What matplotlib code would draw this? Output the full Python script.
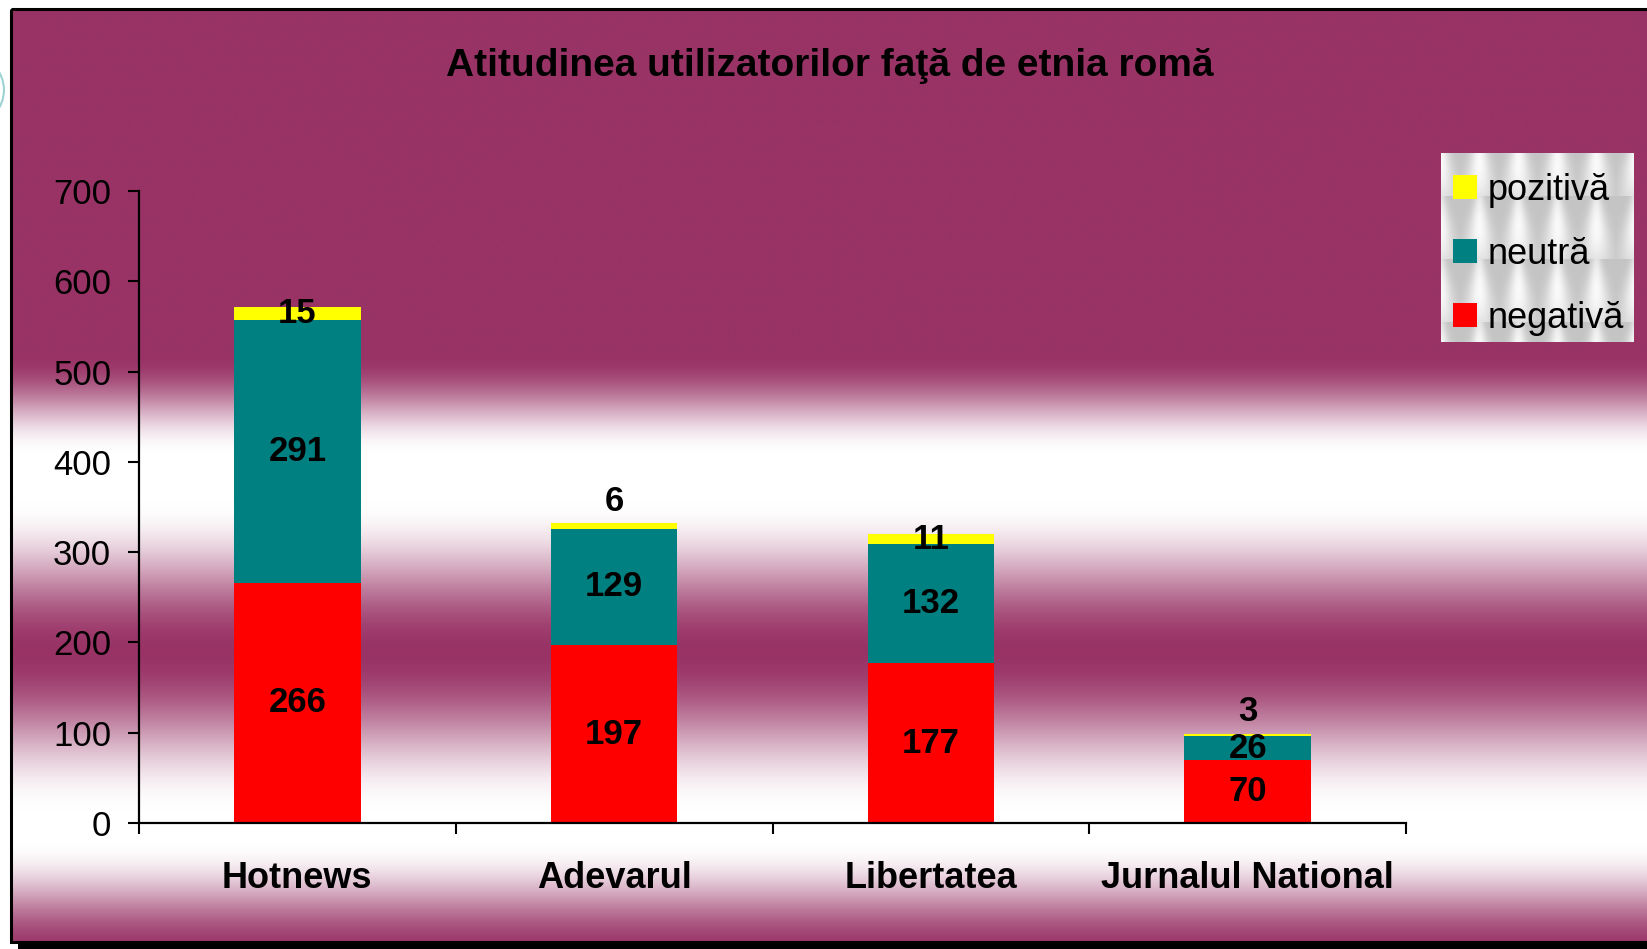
import numpy as np
import matplotlib
matplotlib.use('Agg')
import matplotlib.pyplot as plt
from matplotlib.patches import Rectangle, Patch, Arc

# ---------------- data ----------------
categories = ['Hotnews', 'Adevarul', 'Libertatea', 'Jurnalul National']
negativa = [266, 197, 177, 70]
neutra = [291, 129, 132, 26]
pozitiva = [15, 6, 11, 3]
series_names = ['negativă', 'neutră', 'pozitivă']
series_colors = ['#FF0000', '#008080', '#FFFF00']
yticks = [0, 100, 200, 300, 400, 500, 600, 700]
title = 'Atitudinea utilizatorilor faţă de etnia romă'

# ---------------- figure ----------------
W, H, DPI = 1647, 949, 100
plt.rcParams['font.family'] = ['Liberation Sans', 'DejaVu Sans']
fig = plt.figure(figsize=(W / DPI, H / DPI), dpi=DPI)
fig.patch.set_facecolor('white')

bg = fig.add_axes([0, 0, 1, 1], zorder=0)
bg.axis('off')

# vertical banded gradient (maroon <-> white)
maroon = np.array([153, 51, 102]) / 255.0
ys = np.arange(9, 943)
stops_y = [9, 355, 455, 500, 652, 812, 842, 942]
stops_t = [0, 0, 1, 1, 0, 1, 1, 0.12]
t = np.interp(ys, stops_y, stops_t)
t = 0.5 - 0.5 * np.cos(np.pi * t)  # smooth easing
col = maroon[None, :] * (1 - t[:, None]) + t[:, None]
img = np.repeat(col[:, None, :], 2, axis=1)
bg.imshow(img, extent=[11, W + 5, 942, 9], aspect='auto',
          interpolation='bilinear', zorder=0)

# shadow + frame
bg.add_patch(Rectangle((18, 942), W, 7, facecolor='black', edgecolor='none', zorder=1))
bg.add_patch(Rectangle((11, 9), W + 10, 933, fill=False, edgecolor='black', lw=2.2, zorder=2))
# little arc at left edge
bg.add_patch(Arc((-55, 90), 118, 90, theta1=-60, theta2=60, color='#9ED3D3', lw=1.5, zorder=1))

# legend textured background
lx0, ly0, lx1, ly1 = 1441, 153, 1634, 342
tw, th = 39.0, 63.0
gx = np.arange(lx0, lx1) + 0.5
gy = np.arange(ly0, ly1) + 0.5
GX, GY = np.meshgrid(gx, gy)
fx = ((GX - lx0 + 20) % tw) / tw
fy = ((GY - ly0 + 20) % th) / th
dx = np.abs(fx - 0.5)
width = 0.12 + 0.30 * fy
tex = 0.77 + 0.21 * np.exp(-(dx / width) ** 2) * (0.6 + 0.4 * np.sin(np.pi * fy))
tex = np.clip(tex, 0, 1)
bg.imshow(np.dstack([tex, tex, tex]), extent=[lx0, lx1, ly1, ly0],
          aspect='auto', interpolation='bilinear', zorder=1)

bg.set_xlim(0, W)
bg.set_ylim(H, 0)

fig.text(830 / W, 1 - 66 / H, title, ha='center', va='center',
         fontsize=28, fontweight='bold', color='black')

# ---------------- main axes ----------------
x0, x1, ytop, ybot = 139, 1406, 191, 823
ax = fig.add_axes([x0 / W, 1 - ybot / H, (x1 - x0) / W, (ybot - ytop) / H], zorder=2)
ax.patch.set_alpha(0)

x = np.arange(len(categories))
bw = 0.40
neg = np.array(negativa)
neu = np.array(neutra)
poz = np.array(pozitiva)
ax.bar(x, neg, bw, color=series_colors[0], label=series_names[0], zorder=2)
ax.bar(x, neu, bw, bottom=neg, color=series_colors[1], label=series_names[1], zorder=2)
ax.bar(x, poz, bw, bottom=neg + neu, color=series_colors[2], label=series_names[2], zorder=2)

ax.set_xlim(-0.5, len(categories) - 0.5)
ax.set_ylim(0, 700)

lab_kw = dict(ha='center', fontsize=25, fontweight='bold', color='black', zorder=5)
for i in range(len(categories)):
    ax.text(x[i], neg[i] / 2, str(neg[i]), va='center', **lab_kw)
    ax.text(x[i], neg[i] + neu[i] / 2, str(neu[i]), va='center', **lab_kw)
    top = neg[i] + neu[i] + poz[i]
    if poz[i] < 10:
        ax.annotate(str(poz[i]), (x[i], top), xytext=(0, 4), textcoords='offset points',
                    va='bottom', **lab_kw)
    else:
        ax.text(x[i], neg[i] + neu[i] + poz[i] / 2, str(poz[i]), va='center', **lab_kw)

for side in ['top', 'right']:
    ax.spines[side].set_visible(False)
for side in ['left', 'bottom']:
    ax.spines[side].set_linewidth(1.6)
    ax.spines[side].set_color('black')

ax.set_yticks(yticks)
ax.set_yticklabels([str(v) for v in yticks])
ax.tick_params(axis='y', direction='out', length=8, width=1.5, pad=12,
               labelsize=25, colors='black')

# major ticks at category boundaries, labels at centres
ax.set_xticks(np.arange(len(categories) + 1) - 0.5)
ax.set_xticklabels([])
ax.tick_params(axis='x', which='major', direction='out', length=8, width=1.5)
ax.set_xticks(x, minor=True)
ax.set_xticklabels(categories, minor=True)
ax.tick_params(axis='x', which='minor', length=0, pad=27, labelsize=26)
for tl in ax.get_xticklabels(minor=True):
    tl.set_fontweight('bold')

# legend
handles = [Patch(facecolor=c, edgecolor='none') for c in series_colors[::-1]]
leg = ax.legend(handles, series_names[::-1], loc='upper left',
                bbox_to_anchor=(1453 / W, 1 - 173 / H), bbox_transform=fig.transFigure,
                frameon=False, fontsize=26, handlelength=0.66, handleheight=0.66,
                handletextpad=0.3, labelspacing=0.8, borderpad=0, borderaxespad=0)

fig.savefig('out.png', dpi=DPI)
